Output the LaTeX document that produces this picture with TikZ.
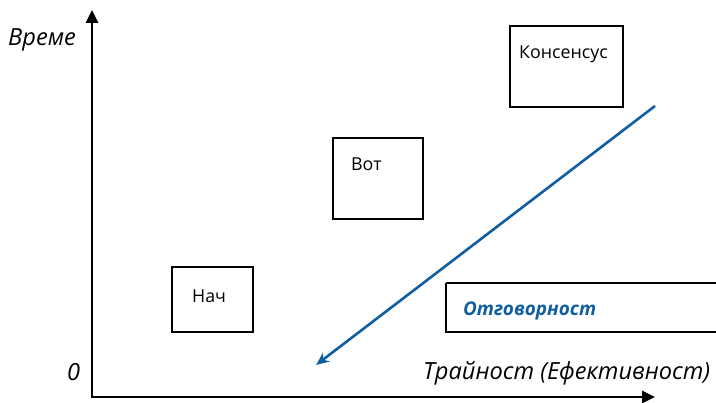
\documentclass[tikz,border=0pt]{standalone}
\usepackage{fontspec}
\setmainfont{Open Sans}
\usetikzlibrary{arrows.meta}
\definecolor{blu}{RGB}{16,94,160}
\begin{document}
\begin{tikzpicture}[x=1pt,y=-1pt,
  box/.style={draw=black,line width=1.6pt},
  lbl/.style={inner sep=0pt,anchor=west,font=\fontsize{17.8}{20}\selectfont},
  ital/.style={lbl,font=\fontsize{23.6}{26}\selectfont\itshape},
  axis/.style={line width=2.5pt,-{Triangle[length=13pt,width=12pt]}}]
\useasboundingbox (0,0) rectangle (716,403);
\coordinate (O) at (92,397);
\coordinate (ytip) at (92,10);
\coordinate (xtip) at (655,397);
\draw[axis] (92,398.2) -- (ytip);
\draw[axis] (90.8,397) -- (xtip);
\node[ital] (vreme) at (8,40) {Време};
\node[ital] (zero) at (67,372) {0};
\node[ital] (tr) at (423,373) {Трайност (Ефективност)};
\draw[box] (172,267) rectangle (253,332);
\node[lbl] (nach) at (192,296) {Нач};
\draw[box] (333,138) rectangle (423,219);
\node[lbl] (vot) at (351,164) {Вот};
\draw[box] (510,26) rectangle (623,107);
\node[lbl] (kons) at (519,54) {Консенсус};
\draw[box] (446,283) -- (720,283) (446,283) -- (446,332) -- (720,332);
\node[lbl,text=blu,font=\fontsize{18.9}{21}\selectfont\bfseries\itshape] (otg) at (463,311) {Отговорност};
\coordinate (bs) at (655,106);
\coordinate (be) at (316,365);
\draw[blu,line width=2.6pt,-{Stealth[length=13pt,width=11pt]}] (bs) -- (be);
\end{tikzpicture}
\end{document}
